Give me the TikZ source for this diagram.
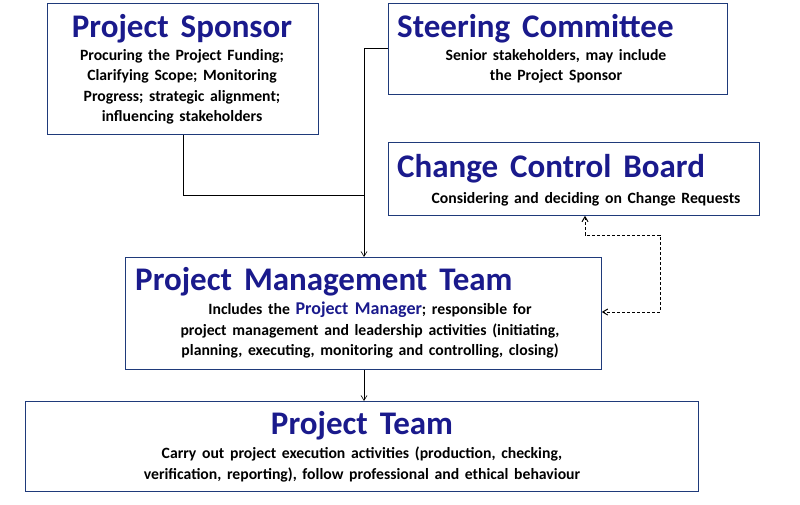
\documentclass[tikz,border=0pt]{standalone}
\usepackage{fontspec}
\setmainfont[WordSpace={1.6}]{Carlito}
\usetikzlibrary{arrows.meta}
\definecolor{navy}{HTML}{1A1A8C}
\definecolor{frame}{HTML}{1F3A7A}
\begin{document}
\begin{tikzpicture}[x=1pt,y=-1pt,
  box/.style={draw=frame,line width=0.8pt,inner sep=0,anchor=north west},
  ttl/.style={font=\bfseries\fontsize{33}{36}\selectfont,text=navy,inner sep=0},
  bod/.style={font=\bfseries\fontsize{15.7}{20.5}\selectfont,align=center,inner sep=0},
  arr/.style={-{Straight Barb[length=5pt,width=6pt]},line width=0.6pt}]
\useasboundingbox (0,0) rectangle (800,505);
\node[box,minimum width=271,minimum height=131] (ps) at (47,3) {};
\node[box,minimum width=339,minimum height=91] (sc) at (388,3) {};
\node[box,minimum width=371,minimum height=73] (ccb) at (388,142) {};
\node[box,minimum width=476,minimum height=112] (pmt) at (125,257) {};
\node[box,minimum width=673,minimum height=90] (pt) at (25,401) {};
\node[ttl] (pst) at (182,29) {Project Sponsor};
\node[bod,anchor=north] (psb) at (182,49) {Procuring the Project Funding;\\Clarifying Scope; Monitoring\\Progress; strategic alignment;\\influencing stakeholders};
\node[ttl,anchor=west] (sct) at (397,29) {Steering Committee};
\node[bod,anchor=north] (scb) at (556,49) {Senior stakeholders, may include\\the Project Sponsor};
\node[ttl,anchor=west] (ccbt) at (397,169) {Change Control Board};
\node[bod] (ccbb) at (586,199) {Considering and deciding on Change Requests};
\node[ttl,anchor=west] (pmtt) at (135,282) {Project Management Team};
\node[bod,anchor=north] (pmtb) at (370,302) {Includes the {\color{navy}\fontsize{18}{20.5}\selectfont Project Manager}; responsible for\\project management and leadership activities (initiating,\\planning, executing, monitoring and controlling, closing)};
\node[ttl] (ptt) at (362,426) {Project Team};
\node[bod,anchor=north] (ptb) at (362,447) {Carry out project execution activities (production, checking,\\verification, reporting), follow professional and ethical behaviour};
\coordinate (j1) at (364,195);
\draw[line width=0.6pt] (ps.south -| 183,0) |- (j1);
\draw[line width=0.6pt] (sc.west |- 0,48) -| (j1);
\draw[arr] (j1) -- (pmt.north -| j1);
\draw[arr] (pmt.south -| 364,0) -- (pt.north -| 364,0);
\coordinate (d1) at (585,235);
\coordinate (d2) at (660,235);
\coordinate (d3) at (660,312);
\draw[dash pattern=on 3pt off 2pt,line width=1pt,{Straight Barb[length=5pt,width=6pt]}-{Straight Barb[length=5pt,width=6pt]}] (ccb.south -| d1) -- (d1) -- (d2) -- (d3) -- (pmt.east |- d3);
\end{tikzpicture}
\end{document}
